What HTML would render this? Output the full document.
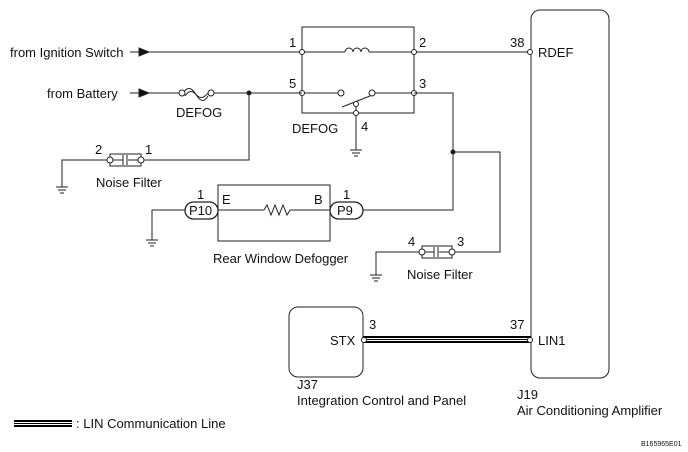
<!DOCTYPE html>
<html><head><style>body{margin:0;background:#fff}svg{display:block}text{font-family:"Liberation Sans",sans-serif;font-size:13px;fill:#111}</style></head><body>
<svg width="688" height="452" viewBox="0 0 688 452" xmlns="http://www.w3.org/2000/svg" stroke="#222" fill="none" stroke-width="1">
<!-- ignition -->
<text x="10" y="57" stroke="none">from Ignition Switch</text>
<line x1="130" y1="52" x2="302" y2="52"/><polygon points="139,48 149,52 139,56" fill="#111"/>
<line x1="414" y1="52" x2="530" y2="52"/>
<!-- relay box -->
<rect x="302" y="27" width="112" height="86"/>
<line x1="302" y1="52" x2="345" y2="52"/><line x1="369" y1="52" x2="414" y2="52"/>
<path d="M345,52 a4,4 0 0 1 8,0 a4,4 0 0 1 8,0 a4,4 0 0 1 8,0" />
<line x1="302" y1="93" x2="338" y2="93"/><line x1="375" y1="93" x2="414" y2="93"/>
<circle cx="341" cy="93" r="3" fill="#fff"/><circle cx="372" cy="93" r="3" fill="#fff"/>
<line x1="342" y1="107" x2="370" y2="96"/>
<line x1="356" y1="102" x2="356" y2="150"/>
<g fill="#fff"><circle cx="302" cy="52" r="2.5"/><circle cx="414" cy="52" r="2.5"/><circle cx="302" cy="93" r="2.5"/><circle cx="414" cy="93" r="2.5"/><circle cx="356" cy="113" r="2.5"/><circle cx="356" cy="104" r="2.5"/></g>
<path d="M350,150h12M352,153h8M354,156h4"/>
<text x="289" y="47" stroke="none">1</text><text x="419" y="47" stroke="none">2</text>
<text x="289" y="88" stroke="none">5</text><text x="419" y="88" stroke="none">3</text>
<text x="361" y="131" stroke="none">4</text><text x="292" y="133" stroke="none">DEFOG</text>
<!-- battery -->
<text x="47" y="98" stroke="none">from Battery</text>
<line x1="130" y1="93" x2="180" y2="93"/><polygon points="139,89 149,93 139,97" fill="#111"/>
<line x1="213" y1="93" x2="302" y2="93"/>
<path d="M183,93 q6,-9 12,0 t13,0 M185,96 q6,-9 12,0 t11,0" />
<circle cx="182" cy="93" r="3" fill="#fff"/><circle cx="211" cy="93" r="3" fill="#fff"/>
<text x="176" y="117" stroke="none">DEFOG</text>
<circle cx="249" cy="93" r="2" fill="#111"/>
<polyline points="249,93 249,160 143,160"/>
<!-- noise filter 1 -->
<rect x="110" y="154" width="31" height="12"/>
<line x1="110" y1="160" x2="123" y2="160"/><line x1="128" y1="160" x2="141" y2="160"/>
<line x1="123" y1="155" x2="123" y2="165"/><line x1="127" y1="155" x2="127" y2="165"/>
<circle cx="110" cy="160" r="3" fill="#fff"/><circle cx="141" cy="160" r="3" fill="#fff"/>
<polyline points="107,160 62,160 62,187"/><path d="M56,187h12M58,190h8M60,193h4"/>
<text x="95" y="154" stroke="none">2</text><text x="145" y="154" stroke="none">1</text>
<text x="96" y="187" stroke="none">Noise Filter</text>
<!-- pin 3 lines -->
<polyline points="414,93 453,93 453,210 363,210"/>
<circle cx="453" cy="152" r="2" fill="#111"/>
<polyline points="453,152 500,152 500,252 455,252"/>
<!-- noise filter 2 -->
<rect x="422" y="246" width="30" height="12"/>
<line x1="422" y1="252" x2="434" y2="252"/><line x1="439" y1="252" x2="452" y2="252"/>
<line x1="434" y1="247" x2="434" y2="257"/><line x1="438" y1="247" x2="438" y2="257"/>
<circle cx="422" cy="252" r="3" fill="#fff"/><circle cx="452" cy="252" r="3" fill="#fff"/>
<polyline points="419,252 376,252 376,275"/><path d="M370,275h12M372,278h8M374,281h4"/>
<text x="408" y="246" stroke="none">4</text><text x="457" y="246" stroke="none">3</text>
<text x="407" y="279" stroke="none">Noise Filter</text>
<!-- defogger -->
<rect x="218" y="185" width="112" height="56"/>
<line x1="218" y1="210" x2="264" y2="210"/><line x1="290" y1="210" x2="330" y2="210"/>
<polyline points="264,210 267,205 271,215 275,205 279,215 283,205 287,215 290,210"/>
<rect x="185" y="202" width="33" height="17" rx="8.5" stroke-width="1.3"/>
<rect x="330" y="202" width="33" height="17" rx="8.5" stroke-width="1.3"/>
<text x="189" y="215" stroke="none">P10</text><text x="337" y="215" stroke="none">P9</text>
<text x="197" y="199" stroke="none">1</text><text x="343" y="199" stroke="none">1</text>
<text x="222" y="204" stroke="none">E</text><text x="314" y="204" stroke="none">B</text>
<polyline points="185,210 152,210 152,240"/><path d="M146,240h12M148,243h8M150,246h4"/>
<text x="213" y="263" stroke="none">Rear Window Defogger</text>
<!-- J19 -->
<rect x="531" y="10" width="78" height="368" rx="9"/>
<circle cx="530" cy="52" r="2.5" fill="#fff"/>
<text x="538" y="57" stroke="none">RDEF</text><text x="510" y="47" stroke="none">38</text>
<text x="538" y="345" stroke="none">LIN1</text><text x="510" y="329" stroke="none">37</text>
<!-- J37 -->
<rect x="289" y="307" width="74" height="70" rx="9"/>
<text x="330" y="345" stroke="none">STX</text><text x="369" y="329" stroke="none">3</text>
<rect x="363" y="336" width="168" height="7" fill="#000" stroke="none"/>
<line x1="363" y1="338.5" x2="531" y2="338.5" stroke="#fff" stroke-width="1"/>
<line x1="363" y1="340.5" x2="531" y2="340.5" stroke="#fff" stroke-width="1"/>
<circle cx="364" cy="340" r="2.5" fill="#fff"/><circle cx="530" cy="340" r="2.5" fill="#fff"/>
<text x="297" y="389" stroke="none">J37</text><text x="297" y="405" stroke="none">Integration Control and Panel</text>
<text x="517" y="399" stroke="none">J19</text><text x="517" y="415" stroke="none">Air Conditioning Amplifier</text>
<!-- legend -->
<rect x="14" y="420" width="58" height="7" fill="#000" stroke="none"/>
<line x1="14" y1="422.5" x2="72" y2="422.5" stroke="#fff" stroke-width="1"/>
<line x1="14" y1="424.5" x2="72" y2="424.5" stroke="#fff" stroke-width="1"/>
<text x="76" y="428" stroke="none">: LIN Communication Line</text>
<text x="641" y="446" stroke="none" style="font-size:7px">B165965E01</text>
</svg>
</body></html>
